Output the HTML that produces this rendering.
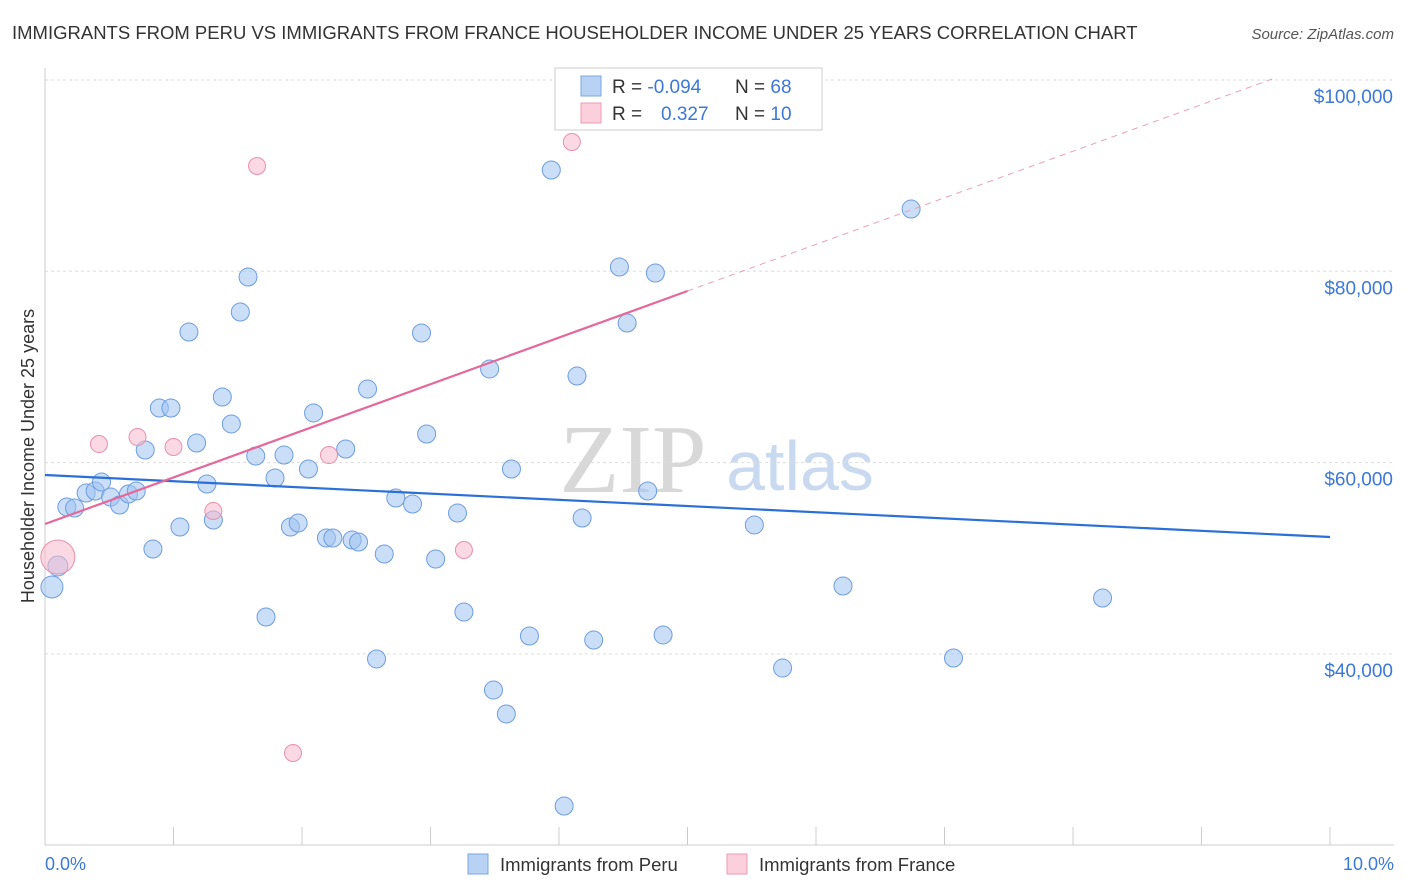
<!DOCTYPE html>
<html><head><meta charset="utf-8">
<style>
body{margin:0;background:#fff;font-family:"Liberation Sans",sans-serif;}
#wrap{position:relative;width:1406px;height:892px;overflow:hidden;}
</style></head>
<body>
<div id="wrap">
<svg id="svg" width="1406" height="892" xmlns="http://www.w3.org/2000/svg">
<text x="12" y="39" font-size="18.5" fill="#333">IMMIGRANTS FROM PERU VS IMMIGRANTS FROM FRANCE HOUSEHOLDER INCOME UNDER 25 YEARS CORRELATION CHART</text>
<text x="1394" y="39" font-size="15" fill="#555" font-style="italic" text-anchor="end">Source: ZipAtlas.com</text>
<text x="633" y="492" font-size="98" fill="#d8d8d8" font-family="Liberation Serif, serif" text-anchor="middle">ZIP</text>
<text x="800" y="490" font-size="70" fill="#c9daf0" text-anchor="middle">atlas</text>
<g id="grid"></g><g id="axes"></g><g id="marks"></g>
<text transform="translate(34,456) rotate(-90)" font-size="18" fill="#333" text-anchor="middle">Householder Income Under 25 years</text>
<text x="45" y="870" font-size="18" fill="#3c78d8">0.0%</text>
<text x="1394" y="870" font-size="18" fill="#3c78d8" text-anchor="end">10.0%</text>
<g>
<rect x="468" y="854" width="20" height="20" fill="#b8d2f4" stroke="#7aa6e0"/>
<text x="500" y="871" font-size="18.5" fill="#333">Immigrants from Peru</text>
<rect x="727" y="854" width="20" height="20" fill="#fbd0dc" stroke="#eb9ab2"/>
<text x="759" y="871" font-size="18.5" fill="#333">Immigrants from France</text>
</g>
<g>
<rect x="555" y="68" width="267" height="62" fill="#fff" stroke="#ccc"/>
<rect x="581" y="76" width="20" height="20" fill="#b8d2f4" stroke="#7aa6e0"/>
<text x="612" y="93" font-size="19" fill="#333">R = <tspan fill="#3c78d8">-0.094</tspan><tspan x="735">N = </tspan><tspan fill="#3c78d8">68</tspan></text>
<rect x="581" y="103" width="20" height="20" fill="#fbd0dc" stroke="#eb9ab2"/>
<text x="612" y="120" font-size="19" fill="#333">R = <tspan x="661" fill="#3c78d8">0.327</tspan><tspan x="735">N = </tspan><tspan fill="#3c78d8">10</tspan></text>
</g>
</svg>
</div>
<script>
const yTicks=[40000,60000,80000,100000];
const yTickLabels=["$40,000","$60,000","$80,000","$100,000"];
const xTicks=[0,1,2,3,4,5,6,7,8,9,10];
const peruX=[0.054,0.10,0.17,0.23,0.32,0.39,0.44,0.51,0.58,0.65,0.71,0.78,0.84,0.89,0.98,1.05,1.12,1.18,1.26,1.31,1.38,1.45,1.52,1.58,1.64,1.72,1.79,1.86,1.91,1.97,2.05,2.09,2.19,2.24,2.34,2.39,2.44,2.51,2.58,2.64,2.73,2.86,2.93,2.97,3.04,3.21,3.26,3.46,3.49,3.59,3.63,3.77,3.94,4.04,4.14,4.18,4.27,4.47,4.53,4.69,4.75,4.81,5.52,5.74,6.21,6.74,7.07,8.23];
const peruY=[47000,49190,55360,55250,56820,57030,57970,56400,55570,56720,57030,61320,50970,65710,65710,53270,73650,62050,57760,54000,66860,64040,75740,79400,60690,43860,58390,60790,53270,53680,59330,65190,52120,52120,61420,51910,51700,67690,39470,50440,56300,55670,73550,62990,49920,54730,44380,69790,36220,33720,59330,41870,90590,24100,69050,54210,41450,80450,74590,57030,79820,41980,53480,38520,47100,86510,39570,45840];
const franceX=[0.10,0.42,0.72,1.00,1.31,1.65,1.93,2.21,3.26,4.10];
const franceY=[50130,61940,62680,61630,54940,91010,29640,60790,50860,93520];
const peruTrend=[58700,52220];      // value at 0% and 10%
const franceTrend=[53580,77940];    // value at 0% and 5%
const NS="http://www.w3.org/2000/svg";
const X=v=>45+v*128.5;
const Y=v=>80+(100000-v)/20000*191.3;
function mk(t,a,p){const e=document.createElementNS(NS,t);for(const k in a)e.setAttribute(k,a[k]);p.appendChild(e);return e;}
const grid=document.getElementById('grid'),axes=document.getElementById('axes'),marks=document.getElementById('marks');
yTicks.forEach((v,i)=>{
 const l=mk('line',{x1:45,x2:1394,y1:Y(v),y2:Y(v),stroke:'#ddd','stroke-dasharray':'3,3'},grid);
 
 
 const t=mk('text',{x:1393,y:Y(v)+23,'font-size':19,fill:'#3c78d8','text-anchor':'end'},axes);
 t.textContent=yTickLabels[i];
 
 
});
const ax=mk('line',{x1:45,x2:45,y1:68,y2:845,stroke:'#ccc'},axes);


const bx=mk('line',{x1:45,x2:1394,y1:845,y2:845,stroke:'#ccc'},axes);


xTicks.forEach(v=>{
 const t=mk('line',{x1:X(v),x2:X(v),y1:827,y2:845,stroke:'#ccc'},axes);
 
 
});
peruX.forEach((x,i)=>{
 const c=mk('circle',{cx:X(x),cy:Y(peruY[i]),r:i<2?(i==0?11:10):9,fill:'rgba(160,195,240,0.55)',stroke:'#6d9de0','stroke-width':1},marks);
 
 
});
franceX.forEach((x,i)=>{
 const c=mk('circle',{cx:X(x),cy:Y(franceY[i]),r:i==0?17:8.5,fill:'rgba(248,185,205,0.55)',stroke:'#ea90ac','stroke-width':1},marks);
 
 
});
const pl=mk('line',{x1:X(0),y1:Y(peruTrend[0]),x2:X(10),y2:Y(peruTrend[1]),stroke:'#2b6fd8','stroke-width':2.2},marks);


const sl=(franceTrend[1]-franceTrend[0])/5;
const fl=mk('line',{x1:X(0),y1:Y(franceTrend[0]),x2:X(5),y2:Y(franceTrend[1]),stroke:'#e4699a','stroke-width':2.2},marks);


const xe=Math.min(10,(100000+20000/191.3*2-franceTrend[0])/sl);
const fd=mk('line',{x1:X(5),y1:Y(franceTrend[1]),x2:X(xe),y2:Y(franceTrend[0]+sl*xe),stroke:'#e9a0b8','stroke-width':1,'stroke-dasharray':'6,5'},marks);


</script>
</body></html>
